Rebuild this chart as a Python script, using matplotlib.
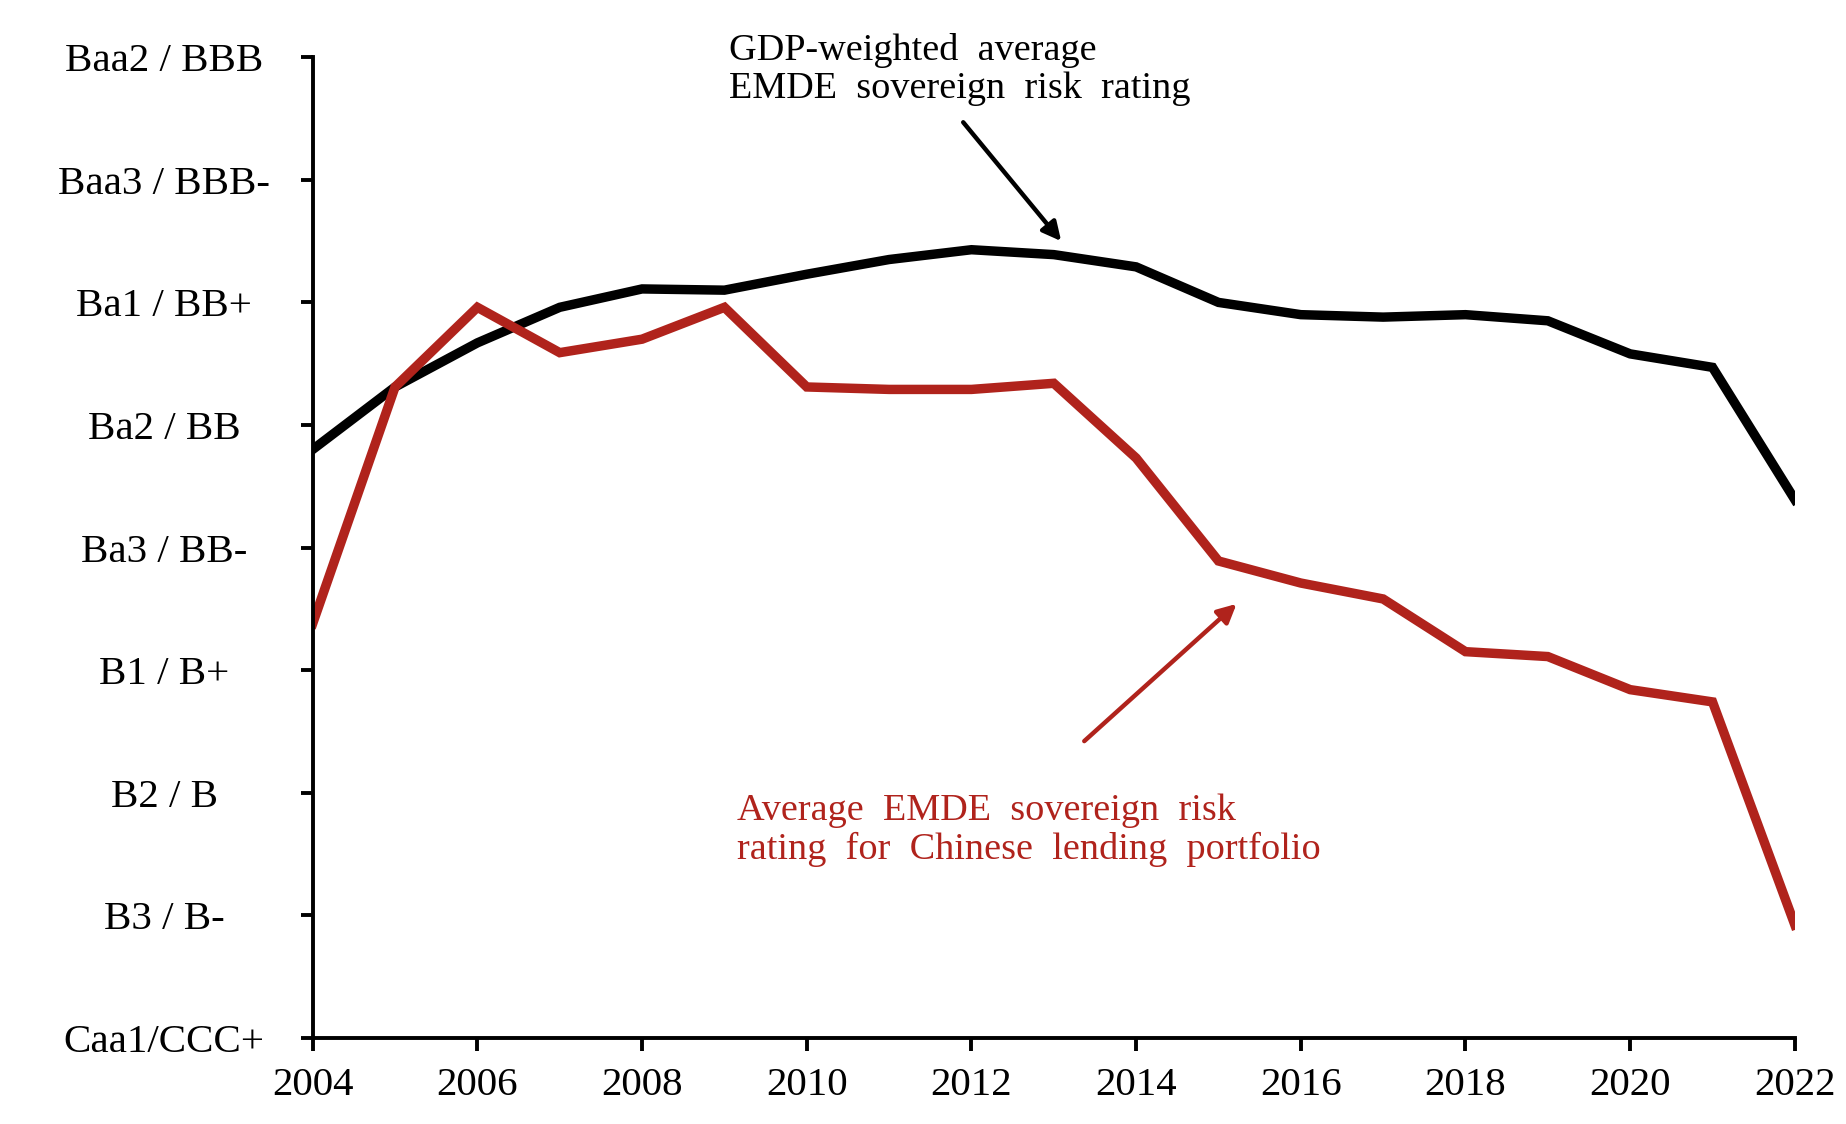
import numpy as np
import matplotlib
matplotlib.use("Agg")
from matplotlib import pyplot as plt

plt.rcParams['font.family'] = ['Liberation Serif', 'DejaVu Serif']

years = list(range(2004, 2023))
# rating scale: 0 = Caa1/CCC+ ... 8 = Baa2/BBB
gdp_weighted = [4.80, 5.31, 5.67, 5.96, 6.11, 6.10, 6.23, 6.35, 6.43, 6.39,
                6.29, 6.00, 5.90, 5.88, 5.90, 5.85, 5.58, 5.47, 4.39]
chinese_portfolio = [3.38, 5.31, 5.96, 5.59, 5.70, 5.96, 5.31, 5.29, 5.29, 5.34,
                     4.73, 3.89, 3.71, 3.58, 3.15, 3.11, 2.84, 2.74, 0.92]
rating_labels = ["Caa1/CCC+", "B3 / B-", "B2 / B", "B1 / B+", "Ba3 / BB-",
                 "Ba2 / BB", "Ba1 / BB+", "Baa3 / BBB-", "Baa2 / BBB"]
xticks = list(range(2004, 2023, 2))

red = '#B0231C'

fig = plt.figure(figsize=(18.46, 11.24), dpi=100)
ax = fig.add_axes([0.1694, 0.0768, 0.9723 - 0.1694, 0.949 - 0.0768])

ax.plot(years, gdp_weighted, color='black', linewidth=6.8, solid_joinstyle='miter')
ax.plot(years, chinese_portfolio, color=red, linewidth=6.8, solid_joinstyle='miter')

ax.set_xlim(2004, 2022)
ax.set_ylim(0, 8)
ax.set_xticks(xticks)
ax.set_yticks(range(len(rating_labels)))
ax.set_yticklabels(rating_labels)
for lbl in ax.get_yticklabels():
    lbl.set_horizontalalignment('center')

for s in ['top', 'right']:
    ax.spines[s].set_visible(False)
for s in ['left', 'bottom']:
    ax.spines[s].set_linewidth(2.8)

ax.tick_params(axis='y', direction='out', length=9, width=2.8, labelsize=29.5, pad=98)
ax.tick_params(axis='x', direction='out', length=9, width=2.8, labelsize=29.5, pad=12)

ax.text(2009.05, 7.90, "GDP-weighted  average\nEMDE  sovereign  risk  rating",
        fontsize=27.5, color='black', va='center', ha='left', linespacing=1.15)
ax.annotate("", xy=(2013.09, 6.50), xytext=(2011.9, 7.47),
            arrowprops=dict(arrowstyle='-|>', lw=3.2, color='black', mutation_scale=28,
                            shrinkA=0, shrinkB=0))

ax.text(2009.15, 1.69, "Average  EMDE  sovereign  risk\nrating  for  Chinese  lending  portfolio",
        fontsize=27.5, color=red, va='center', ha='left', linespacing=1.15)
ax.annotate("", xy=(2015.22, 3.54), xytext=(2013.37, 2.42),
            arrowprops=dict(arrowstyle='-|>', lw=3.2, color=red, mutation_scale=28,
                            shrinkA=0, shrinkB=0))

fig.savefig('out.png', dpi=100)
